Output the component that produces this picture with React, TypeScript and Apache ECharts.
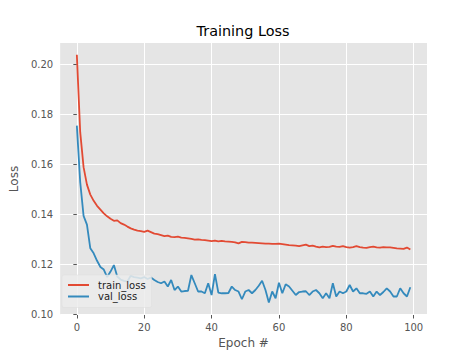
import React, { useEffect, useRef } from "react";
import * as echarts from "echarts";

const epochs: number[] = Array.from({ length: 100 }, (_, i) => i);

const trainLoss: number[] = [
  0.204, 0.173, 0.159, 0.152, 0.148, 0.1455, 0.1435, 0.142, 0.1405, 0.1393,
  0.1383, 0.1375, 0.1377, 0.1366, 0.136, 0.1352, 0.1345, 0.134, 0.1336, 0.1334,
  0.1331, 0.1336, 0.133, 0.1324, 0.1322, 0.1318, 0.1314, 0.1316, 0.1311, 0.131,
  0.1312, 0.1308, 0.1307, 0.1305, 0.1303, 0.13, 0.1301, 0.1299, 0.1298, 0.1296,
  0.1294, 0.1296, 0.1293, 0.1295, 0.1293, 0.1292, 0.1291, 0.1289, 0.1285, 0.1291,
  0.129, 0.1288, 0.1288, 0.1287, 0.1286, 0.1285, 0.1284, 0.1284, 0.1283, 0.1283,
  0.1284, 0.1282, 0.128, 0.1278, 0.1277, 0.1276, 0.1274, 0.1277, 0.128, 0.1274,
  0.1276, 0.1272, 0.1269, 0.1272, 0.127, 0.1271, 0.1275, 0.1272, 0.1271, 0.1274,
  0.127, 0.1268, 0.127, 0.1274, 0.127, 0.1268, 0.1267, 0.127, 0.1272, 0.1269,
  0.1268, 0.127, 0.1269, 0.1269, 0.1267, 0.1265, 0.1264, 0.1263, 0.1268, 0.126,
];

const valLoss: number[] = [
  0.1756, 0.153, 0.1395, 0.136, 0.1265, 0.1245, 0.1215, 0.119, 0.118, 0.115,
  0.1172, 0.1198, 0.1152, 0.114, 0.1135, 0.1132, 0.1155, 0.115, 0.1148, 0.1145,
  0.115, 0.1142, 0.1148, 0.1138, 0.113, 0.1125, 0.1132, 0.1112, 0.1138, 0.1098,
  0.1112, 0.1092, 0.1094, 0.1095, 0.1158, 0.1125, 0.1092, 0.1092, 0.1085, 0.1125,
  0.1078, 0.1162, 0.1088, 0.1085, 0.1085, 0.1086, 0.1112, 0.1098, 0.1092, 0.1061,
  0.1092, 0.1098, 0.1085, 0.1098, 0.1115, 0.1135, 0.1098, 0.1048, 0.1092, 0.1065,
  0.1127, 0.1085, 0.1121, 0.1112, 0.1095, 0.1078, 0.109, 0.1092, 0.1093, 0.1078,
  0.1092, 0.1098, 0.1085, 0.1065, 0.1085, 0.1065, 0.1125, 0.1072, 0.1092, 0.1085,
  0.1092, 0.1118, 0.1092, 0.1105, 0.1085, 0.1085, 0.1083, 0.1092, 0.1072, 0.1092,
  0.1078, 0.109, 0.1105, 0.1092, 0.1072, 0.1072, 0.1105, 0.1085, 0.1072, 0.1109,
];

const xTicks: number[] = [0, 20, 40, 60, 80, 100];
const yTicks: number[] = [0.1, 0.12, 0.14, 0.16, 0.18, 0.2];

const FONT = "DejaVu Sans";

export default function App() {
  const ref = useRef<HTMLDivElement>(null);
  useEffect(() => {
    if (!ref.current) return;
    const chart = echarts.init(ref.current, null, { renderer: "svg" });
    chart.setOption({
      animation: false,
      backgroundColor: "#ffffff",
      textStyle: { fontFamily: FONT },
      title: {
        text: "Training Loss",
        left: 243,
        top: 24,
        textAlign: "center",
        padding: 0,
        textStyle: { fontFamily: FONT, fontSize: 14.4, fontWeight: "normal", color: "#000000" },
      },
      grid: {
        left: 60,
        right: 47,
        top: 43,
        bottom: 40,
        show: true,
        backgroundColor: "#E5E5E5",
        borderWidth: 0,
      },
      legend: {
        left: 62,
        top: 275,
        orient: "vertical",
        backgroundColor: "rgba(236,236,236,0.85)",
        borderColor: "#dcdcdc",
        borderWidth: 0.5,
        borderRadius: 2,
        padding: [5, 6, 6, 6],
        itemGap: 1.5,
        itemWidth: 21,
        itemHeight: 2,
        icon: "rect",
        textStyle: { fontFamily: FONT, fontSize: 10, color: "#222222", padding: [0, 0, 0, 4] },
        data: ["train_loss", "val_loss"],
      },
      xAxis: {
        type: "value",
        min: -4.95,
        max: 103.95,
        name: "Epoch #",
        nameLocation: "middle",
        nameGap: 21,
        nameTextStyle: { fontFamily: FONT, fontSize: 12, color: "#555555" },
        axisLine: { show: false },
        axisTick: { show: true, customValues: xTicks, length: 3.5, lineStyle: { color: "#555555", width: 1 } },
        axisLabel: { customValues: xTicks, margin: 7, fontFamily: FONT, fontSize: 10, color: "#555555" },
        splitLine: { show: true, lineStyle: { color: "#ffffff", width: 1 } },
      },
      yAxis: {
        type: "value",
        min: 0.0998,
        max: 0.2087,
        name: "Loss",
        nameLocation: "middle",
        nameGap: 37,
        nameTextStyle: { fontFamily: FONT, fontSize: 12, color: "#555555" },
        axisLine: { show: false },
        axisTick: { show: true, customValues: yTicks, length: 3.5, lineStyle: { color: "#555555", width: 1 } },
        axisLabel: {
          customValues: yTicks,
          margin: 7,
          fontFamily: FONT,
          fontSize: 10,
          color: "#555555",
          formatter: (v: number) => v.toFixed(2),
        },
        splitLine: { show: true, lineStyle: { color: "#ffffff", width: 1 } },
      },
      series: [
        {
          name: "train_loss",
          type: "line",
          data: epochs.map((e, i) => [e, trainLoss[i]]),
          symbol: "none",
          lineStyle: { color: "#E24A33", width: 1.8 },
          itemStyle: { color: "#E24A33" },
          z: 2,
        },
        {
          name: "val_loss",
          type: "line",
          data: epochs.map((e, i) => [e, valLoss[i]]),
          symbol: "none",
          lineStyle: { color: "#348ABD", width: 1.8 },
          itemStyle: { color: "#348ABD" },
          z: 3,
        },
      ],
    });
    return () => chart.dispose();
  }, []);
  return <div ref={ref} style={{ width: 474, height: 355, position: "absolute", left: 0, top: 0 }} />;
}
